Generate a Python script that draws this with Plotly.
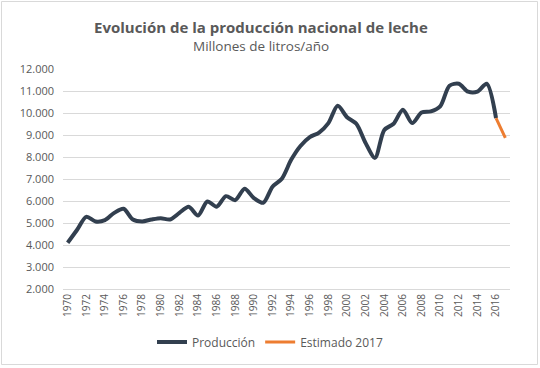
import plotly.graph_objects as go

years = list(range(1970, 2018))
produccion = [4100, 4680, 5280, 5070, 5130, 5460, 5650, 5160, 5070, 5160,
              5220, 5160, 5460, 5740, 5340, 5980, 5740, 6220, 6040, 6560,
              6130, 5920, 6650, 7010, 7870, 8500, 8900, 9110, 9540, 10330,
              9810, 9510, 8630, 7960, 9230, 9510, 10150, 9540, 10020, 10070,
              10300, 11240, 11330, 10970, 10970, 11330, 9770]
estimado_years = [2016, 2017]
estimado = [9770, 8870]
tick_years = list(range(1970, 2017, 2))

W, H = 540, 368
L, R, T, B = 63, 30, 69, 79
pw, ph = W - L - R, H - T - B

def px(x):
    return (x - L) / pw

def py(y):
    return 1 - (y - T) / ph

fig = go.Figure()
fig.add_trace(go.Scatter(
    x=years[:len(produccion)], y=produccion, mode="lines", name="Producción",
    line=dict(color="#323F4F", width=4, shape="spline", smoothing=0.8)))
fig.add_trace(go.Scatter(
    x=estimado_years, y=estimado, mode="lines", name="Estimado 2017",
    line=dict(color="#ED7D31", width=3, shape="spline")))

fig.update_layout(
    width=W, height=H,
    margin=dict(l=L, r=R, t=T, b=B, autoexpand=False),
    paper_bgcolor="white", plot_bgcolor="white",
    separators=",.",
    font=dict(family="Open Sans, Liberation Sans, sans-serif", color="#595959", size=11),
    showlegend=True,
    legend=dict(orientation="h", x=px(270), xanchor="center", y=py(342), yanchor="middle",
                font=dict(size=12, color="#595959")),
    annotations=[
        dict(text="<b>Evolución de la producción nacional de leche</b>", x=px(261), y=py(27),
             xref="paper", yref="paper", showarrow=False, xanchor="center", yanchor="middle",
             font=dict(size=15, color="#595959")),
        dict(text="Millones de litros/año", x=px(261), y=py(46),
             xref="paper", yref="paper", showarrow=False, xanchor="center", yanchor="middle",
             font=dict(size=13.5, color="#595959")),
    ],
    shapes=[dict(type="rect", xref="paper", yref="paper",
                 x0=px(1.5), x1=px(537.5), y0=py(364.5), y1=py(1.5),
                 line=dict(color="#D9D9D9", width=1), layer="below")],
)
fig.update_xaxes(range=[1969.5, 2017.5], tickmode="array", tickvals=tick_years,
                 ticktext=[str(y) for y in tick_years], tickangle=-90,
                 showgrid=False, showline=True, linecolor="#D9D9D9", ticks="",
                 tickfont=dict(size=10, color="#595959"), zeroline=False, automargin=False)
fig.update_yaxes(range=[2000, 12000], dtick=1000, tickformat=",",
                 showgrid=True, gridcolor="#D9D9D9", gridwidth=1, zeroline=False,
                 tickfont=dict(size=11, color="#595959"), ticks="", ticklabelstandoff=8,
                 automargin=False)

fig.write_html("out.html", config={"displayModeBar": False},
               post_script="document.body.style.margin='0';")
